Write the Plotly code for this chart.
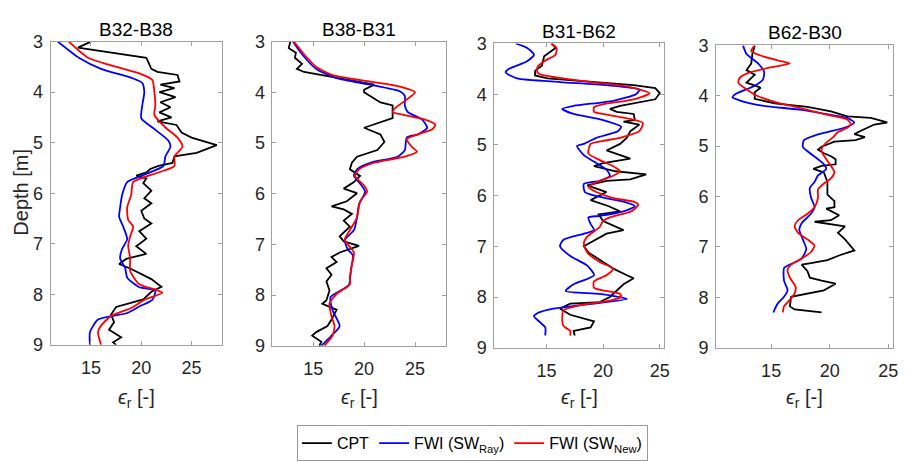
import plotly.graph_objects as go

# ---------------- data ----------------
titles = ["B32-B38", "B38-B31", "B31-B62", "B62-B30"]
series_names = ["CPT", "FWI (SW<sub>Ray</sub>)", "FWI (SW<sub>New</sub>)"]
x_ticks = [15, 20, 25]
y_ticks = [3, 4, 5, 6, 7, 8, 9]

# Panel 1: B32-B38
p1_cpt_depth = [3.0, 3.12, 3.32, 3.47, 3.54, 3.6, 3.66, 3.79, 3.85, 3.92, 4.0, 4.1, 4.2, 4.3, 4.4, 4.5, 4.58, 4.65,
                4.8, 4.9, 5.05, 5.2, 5.27, 5.4, 5.46, 5.52, 5.59, 5.65, 5.71, 5.8, 5.95, 6.1, 6.2, 6.35, 6.5, 6.6,
                6.75, 6.9, 7.05, 7.2, 7.3, 7.4, 7.5, 7.7, 7.85, 7.95, 8.1, 8.25, 8.4, 8.55, 8.7, 8.85, 8.95, 9.0]
p1_cpt_eps = [15.0, 13.7, 20.5, 20.8, 21.0, 21.6, 23.6, 23.8, 21.9, 23.3, 21.8, 23.4, 21.9, 22.9, 21.8, 23.0, 21.6,
              23.5, 24.0, 25.0, 27.5, 25.5, 23.3, 23.1, 21.7, 20.9, 20.5, 19.5, 20.5, 20.2, 21.0, 20.3, 21.0, 20.0,
              20.3, 21.0, 19.8, 20.5, 19.5, 20.5, 18.5, 17.8, 19.0, 21.0, 22.0, 21.0, 20.2, 17.5, 17.0, 17.3, 16.8,
              18.0, 17.2, 17.5]
p1_ray_depth = [3.0, 3.32, 3.54, 3.73, 3.82, 4.0, 4.26, 4.52, 4.7, 4.96, 5.08, 5.27, 5.46, 5.62, 5.78, 6.03, 6.28,
                6.47, 6.66, 6.91, 7.1, 7.29, 7.48, 7.67, 7.86, 7.92, 8.11, 8.24, 8.37, 8.5, 8.75, 9.0]
p1_ray_eps = [11.7, 13.8, 16.0, 19.2, 20.1, 20.3, 20.1, 20.0, 21.1, 22.7, 22.9, 22.4, 22.2, 20.5, 18.6, 18.1, 17.9,
              17.8, 18.2, 18.6, 18.1, 17.9, 18.4, 18.6, 19.8, 21.4, 21.1, 19.8, 18.6, 15.7, 14.9, 14.9]
p1_new_depth = [3.0, 3.32, 3.47, 3.63, 3.76, 4.0, 4.26, 4.45, 4.7, 4.9, 5.08, 5.27, 5.46, 5.59, 5.78, 6.03, 6.28,
                6.53, 6.66, 6.85, 7.04, 7.29, 7.54, 7.8, 7.92, 7.97, 8.11, 8.27, 8.43, 8.62, 8.75, 9.0]
p1_new_eps = [12.8, 14.7, 17.0, 19.8, 21.1, 21.3, 21.4, 21.3, 22.4, 23.6, 24.1, 23.3, 23.3, 21.7, 19.2, 19.0, 18.6,
              18.7, 19.2, 18.9, 18.7, 18.9, 18.9, 19.8, 21.6, 22.1, 20.3, 19.0, 17.0, 16.0, 15.7, 16.0]

# Panel 2: B38-B31
p2_cpt_depth = [3.0, 3.13, 3.22, 3.32, 3.44, 3.54, 3.6, 3.66, 3.76, 3.85, 3.95, 4.0, 4.2, 4.26, 4.51, 4.7, 4.83,
                4.98, 5.14, 5.27, 5.39, 5.52, 5.65, 5.77, 5.9, 5.99, 6.15, 6.25, 6.31, 6.4, 6.53, 6.65, 6.84, 6.94,
                7.03, 7.16, 7.25, 7.35, 7.47, 7.6, 7.73, 7.91, 8.1, 8.17, 8.29, 8.48, 8.61, 8.73, 8.8, 8.92, 9.0]
p2_cpt_eps = [12.75, 12.6, 13.3, 13.2, 13.9, 13.4, 14.1, 15.9, 18.6, 21.0, 20.0, 20.0, 21.6, 22.8, 22.8, 20.0,
              21.6, 22.0, 21.3, 19.3, 18.8, 18.6, 19.6, 19.0, 18.0, 19.3, 18.3, 16.8, 18.0, 18.8, 18.0, 18.6, 17.6,
              18.0, 19.5, 17.6, 16.8, 17.3, 16.3, 16.8, 16.3, 16.6, 16.3, 15.9, 17.3, 16.8, 16.4, 15.3, 14.9, 15.8,
              15.6]
p2_ray_depth = [3.0, 3.25, 3.54, 3.72, 3.85, 3.98, 4.07, 4.26, 4.39, 4.54, 4.7, 4.83, 4.89, 5.14, 5.27, 5.39,
                5.52, 5.65, 5.8, 5.96, 6.21, 6.47, 6.72, 6.91, 7.1, 7.22, 7.5, 7.8, 8.04, 8.3, 8.61, 8.8, 9.0]
p2_ray_eps = [13.0, 13.9, 15.3, 17.3, 20.6, 23.5, 24.0, 24.0, 24.3, 25.7, 26.2, 25.3, 24.2, 24.0, 23.3, 20.6,
              19.3, 19.0, 19.6, 20.1, 19.5, 19.3, 19.0, 18.1, 18.4, 18.9, 18.7, 18.5, 16.7, 16.9, 17.6, 16.8, 15.8]
p2_new_depth = [3.0, 3.25, 3.5, 3.66, 3.79, 3.88, 4.0, 4.17, 4.32, 4.39, 4.45, 4.54, 4.64, 4.73, 4.83, 4.92, 5.08,
                5.17, 5.27, 5.39, 5.52, 5.65, 5.84, 5.96, 6.15, 6.47, 6.72, 6.91, 7.16, 7.41, 7.66, 7.79, 7.98, 8.17,
                8.42, 8.61, 8.8, 9.0]
p2_new_eps = [13.1, 14.1, 15.3, 16.9, 20.6, 23.3, 25.0, 24.0, 23.0, 22.8, 24.0, 26.0, 27.0, 26.7, 25.3, 24.2, 24.7,
              25.2, 24.0, 21.0, 19.5, 19.1, 20.0, 20.3, 19.6, 19.3, 18.6, 18.1, 19.0, 18.8, 18.6, 18.6, 17.3, 16.6,
              16.8, 17.1, 16.9, 16.1]

# Panel 3: B31-B62
p3_cpt_depth = [3.0, 3.09, 3.25, 3.44, 3.54, 3.63, 3.69, 3.76, 3.82, 3.88, 3.98, 4.1, 4.16, 4.23, 4.29, 4.35, 4.39,
                4.51, 4.54, 4.6, 4.73, 4.86, 4.98, 5.11, 5.27, 5.36, 5.42, 5.52, 5.58, 5.68, 5.71, 5.8, 5.93, 6.09,
                6.21, 6.31, 6.37, 6.5, 6.68, 6.75, 7.0, 7.12, 7.31, 7.44, 7.57, 7.63, 7.75, 8.0, 8.1, 8.13, 8.23,
                8.35, 8.48, 8.6, 8.67, 8.76]
p3_cpt_eps = [15.5, 15.8, 14.8, 14.6, 14.0, 14.0, 15.1, 19.4, 22.7, 24.6, 25.0, 24.6, 23.2, 21.5, 20.6, 21.2, 22.7,
              22.8, 21.8, 23.2, 22.4, 22.1, 21.5, 20.3, 22.4, 20.0, 19.2, 21.1, 23.8, 22.4, 20.3, 18.6, 20.3, 18.9,
              20.5, 21.5, 19.6, 20.0, 21.8, 20.3, 18.3, 18.7, 20.0, 20.9, 22.1, 22.7, 21.8, 20.6, 19.7, 17.1, 16.2,
              17.1, 19.2, 18.9, 17.4, 17.5]
p3_ray_depth = [3.0, 3.09, 3.22, 3.35, 3.5, 3.57, 3.69, 3.76, 3.82, 3.91, 4.0, 4.13, 4.23, 4.29, 4.39, 4.51, 4.64,
                4.73, 4.86, 4.98, 5.02, 5.2, 5.49, 5.61, 5.71, 5.77, 5.93, 6.05, 6.12, 6.21, 6.31, 6.4, 6.43, 6.56,
                6.68, 6.87, 7.0, 7.19, 7.38, 7.57, 7.75, 7.88, 7.94, 8.04, 8.16, 8.23, 8.32, 8.38, 8.51, 8.6, 8.76]
p3_ray_eps = [12.3, 13.3, 13.9, 13.3, 11.7, 11.4, 12.4, 16.2, 20.3, 23.2, 22.9, 20.9, 17.4, 16.4, 17.4, 20.0, 21.6,
              21.3, 19.4, 18.3, 17.7, 18.3, 20.3, 20.6, 19.7, 18.3, 18.4, 20.2, 21.8, 22.8, 21.8, 19.7, 18.7, 18.9,
              19.2, 16.5, 16.2, 17.1, 18.6, 19.2, 17.4, 16.7, 19.7, 22.1, 18.0, 15.6, 14.2, 13.9, 14.5, 14.9, 14.9]
p3_new_depth = [3.0, 3.09, 3.22, 3.35, 3.47, 3.57, 3.63, 3.76, 3.85, 3.98, 4.1, 4.2, 4.26, 4.35, 4.39, 4.45, 4.57,
                4.73, 4.86, 4.92, 4.98, 5.17, 5.3, 5.42, 5.52, 5.61, 5.74, 5.83, 5.93, 6.05, 6.12, 6.18, 6.31, 6.43,
                6.5, 6.62, 6.81, 6.94, 7.12, 7.31, 7.44, 7.57, 7.69, 7.82, 7.94, 8.0, 8.07, 8.16, 8.26, 8.38, 8.57,
                8.67, 8.76]
p3_new_eps = [15.4, 15.9, 15.8, 14.8, 14.2, 14.2, 14.8, 18.9, 22.2, 24.1, 22.7, 20.0, 19.2, 19.2, 20.0, 21.5, 23.5,
              23.2, 21.5, 20.0, 18.9, 18.7, 19.7, 20.9, 21.5, 20.9, 19.4, 18.7, 19.4, 20.9, 22.7, 23.1, 22.5, 20.6,
              20.0, 19.7, 18.6, 18.3, 18.6, 19.7, 20.9, 20.3, 19.2, 19.2, 21.5, 21.6, 20.6, 18.0, 16.5, 16.4, 16.5,
              17.1, 17.1]

# Panel 4: B62-B30
p4_cpt_depth = [3.0, 3.17, 3.36, 3.49, 3.58, 3.74, 3.84, 3.93, 4.06, 4.15, 4.22, 4.31, 4.41, 4.44, 4.53, 4.57,
                4.69, 4.76, 4.82, 4.88, 4.91, 5.01, 5.07, 5.14, 5.2, 5.26, 5.36, 5.39, 5.45, 5.52, 5.71, 5.96, 6.09,
                6.21, 6.24, 6.37, 6.47, 6.5, 6.59, 6.72, 6.85, 7.0, 7.07, 7.16, 7.26, 7.32, 7.35, 7.48, 7.61, 7.67,
                7.73, 7.86, 7.92, 7.99, 8.18, 8.24, 8.3]
p4_cpt_eps = [13.6, 13.4, 13.3, 12.9, 13.6, 12.9, 14.1, 13.6, 13.6, 15.3, 18.1, 20.1, 21.5, 23.5, 24.9, 23.8, 22.7,
              22.1, 23.0, 22.2, 20.4, 19.3, 19.0, 19.5, 20.1, 20.5, 20.5, 19.3, 18.6, 19.5, 19.8, 19.8, 20.4, 20.4,
              19.7, 20.8, 20.1, 18.7, 21.3, 20.7, 21.3, 21.8, 22.1, 20.9, 19.8, 18.4, 17.6, 18.1, 18.3, 19.3, 20.5,
              19.5, 18.1, 16.7, 16.6, 17.0, 19.3]
p4_ray_depth = [3.0, 3.17, 3.36, 3.52, 3.68, 3.8, 3.96, 4.03, 4.09, 4.19, 4.28, 4.38, 4.44, 4.53, 4.63, 4.72, 4.79,
                4.88, 5.01, 5.1, 5.26, 5.36, 5.45, 5.58, 5.71, 5.83, 6.02, 6.21, 6.34, 6.53, 6.66, 6.85, 7.04, 7.23,
                7.35, 7.42, 7.67, 7.86, 7.99, 8.11, 8.24, 8.3]
p4_ray_eps = [12.6, 12.9, 13.9, 14.4, 14.3, 13.6, 12.0, 11.7, 12.3, 14.1, 17.6, 20.1, 21.5, 22.1, 21.3, 19.8, 18.7,
              17.8, 17.7, 18.1, 19.0, 19.5, 19.7, 19.0, 18.7, 18.3, 18.4, 18.7, 18.4, 17.6, 17.4, 17.7, 18.0, 17.6,
              16.6, 16.1, 16.1, 16.4, 16.1, 15.6, 15.3, 15.2]
p4_new_depth = [3.0, 3.11, 3.2, 3.3, 3.36, 3.42, 3.55, 3.65, 3.74, 3.87, 3.99, 4.12, 4.25, 4.38, 4.47, 4.57, 4.66,
                4.72, 4.82, 4.91, 5.01, 5.1, 5.26, 5.39, 5.52, 5.64, 5.74, 5.86, 6.02, 6.21, 6.34, 6.47, 6.59, 6.72,
                6.85, 6.97, 7.1, 7.23, 7.35, 7.45, 7.61, 7.8, 7.92, 8.05, 8.18, 8.3]
p4_new_eps = [13.6, 13.3, 14.1, 15.6, 16.6, 15.3, 13.0, 12.3, 12.2, 12.9, 13.7, 15.3, 17.6, 19.8, 21.5, 21.8, 21.3,
              20.7, 20.3, 19.8, 19.4, 19.3, 19.7, 20.1, 20.4, 20.1, 19.5, 19.0, 19.0, 18.7, 18.1, 17.3, 17.0, 17.3,
              18.1, 18.7, 18.4, 17.6, 16.7, 16.4, 16.6, 17.1, 17.0, 16.6, 16.1, 16.0]

x_ranges = [[11, 28], [11, 28], [10.4, 25.4], [10.3, 25.4]]

panels = [
    [(p1_cpt_depth, p1_cpt_eps), (p1_ray_depth, p1_ray_eps), (p1_new_depth, p1_new_eps)],
    [(p2_cpt_depth, p2_cpt_eps), (p2_ray_depth, p2_ray_eps), (p2_new_depth, p2_new_eps)],
    [(p3_cpt_depth, p3_cpt_eps), (p3_ray_depth, p3_ray_eps), (p3_new_depth, p3_new_eps)],
    [(p4_cpt_depth, p4_cpt_eps), (p4_ray_depth, p4_ray_eps), (p4_new_depth, p4_new_eps)],
]

# ---------------- layout / style ----------------
W, H = 909, 462
colors = ["#000000", "#0000ff", "#ff0000"]
shapes_line = ["linear", "spline", "spline"]
# panel pixel boxes (left, right, top, bottom)
boxes = [(51, 223, 33, 350), (274, 448, 33, 351), (497, 668, 35, 353), (720, 898, 37, 353)]
FONT = "Liberation Sans, Arial, Helvetica, sans-serif"
AX_COL = "#a0a0a0"
TXT_COL = "#262626"

fig = go.Figure()
for i, panel in enumerate(panels):
    xa = "x" if i == 0 else f"x{i+1}"
    ya = "y" if i == 0 else f"y{i+1}"
    for j, (dep, eps) in enumerate(panel):
        fig.add_trace(go.Scatter(
            x=eps, y=dep, mode="lines", xaxis=xa, yaxis=ya,
            name=series_names[j], legendgroup=series_names[j], showlegend=(i == 0),
            line=dict(color=colors[j], width=1.8, shape=shapes_line[j], smoothing=0.6),
        ))

annotations = []
for i, (l, r, t, b) in enumerate(boxes):
    sfx = "" if i == 0 else str(i + 1)
    axis_common = dict(
        showline=True, linecolor=AX_COL, linewidth=1, mirror="ticks",
        ticks="inside", ticklen=4, tickcolor=AX_COL, tickwidth=1,
        showgrid=False, zeroline=False,
        tickfont=dict(family=FONT, size=18, color=TXT_COL),
    )
    fig.layout["xaxis" + sfx] = dict(
        axis_common, domain=[l / W, r / W], range=x_ranges[i], tickvals=x_ticks,
        anchor="y" + sfx, ticklabelstandoff=7,
    )
    fig.layout["yaxis" + sfx] = dict(
        axis_common, domain=[1 - b / H, 1 - t / H], range=[9, 3], tickvals=y_ticks,
        anchor="x" + sfx, ticklabelstandoff=3,
    )
    cx = (l + r) / 2
    annotations.append(dict(
        text=titles[i], x=cx / W, y=1 - (t - 13) / H, xref="paper", yref="paper",
        xanchor="center", yanchor="middle", showarrow=False,
        font=dict(family=FONT, size=19, color="#000000"),
    ))
    annotations.append(dict(
        text="<i>ϵ</i><sub>r</sub> [-]", x=cx / W, y=1 - 406 / H, xref="paper", yref="paper",
        xanchor="center", yanchor="middle", showarrow=False,
        font=dict(family=FONT, size=20, color=TXT_COL),
    ))

annotations.append(dict(
    text="Depth [m]", x=21 / W, y=1 - 190 / H, xref="paper", yref="paper",
    xanchor="center", yanchor="middle", textangle=-90, showarrow=False,
    font=dict(family=FONT, size=20, color=TXT_COL),
))

fig.update_layout(
    width=W, height=H, autosize=False,
    margin=dict(l=0, r=0, t=0, b=0),
    paper_bgcolor="white", plot_bgcolor="white",
    annotations=annotations,
    showlegend=True,
    legend=dict(
        orientation="h", x=475 / W, xanchor="center", y=1 - 434 / H, yanchor="top",
        bordercolor="#999999", borderwidth=1, bgcolor="white",
        font=dict(family=FONT, size=16, color="#000000"),
        itemwidth=30, tracegroupgap=0,
    ),
)

fig.write_html("out.html")
